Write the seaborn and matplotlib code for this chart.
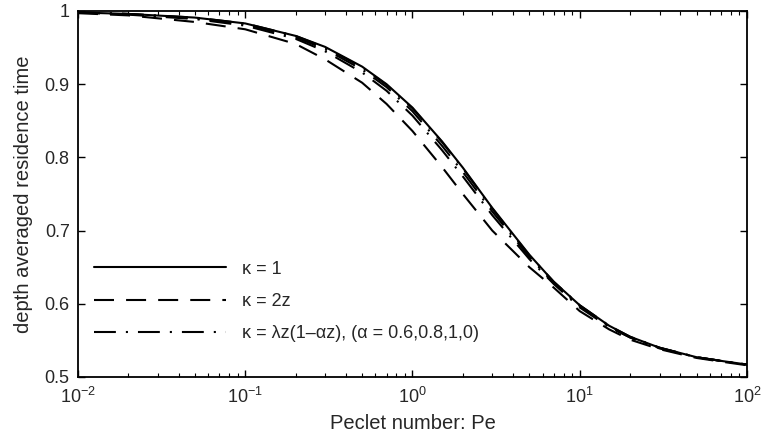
import numpy as np
import pandas as pd
import matplotlib
matplotlib.use("Agg")
import matplotlib.pyplot as plt
import seaborn as sns

pe = [0.01, 0.02, 0.05, 0.1, 0.2, 0.3, 0.5, 0.7, 1, 1.5, 2, 3, 5, 7, 10, 15, 20, 30, 50, 70, 100]
k_const = [.998, .996, .991, .983, .966, .951, .924, .900, .868, .822, .786, .731, .667, .630, .598, .570, .555, .540, .527, .522, .517]
k_2z = [.997, .994, .985, .975, .955, .934, .902, .873, .836, .787, .750, .700, .650, .622, .590, .565, .551, .538, .526, .521, .516]
k_a06 = [.998, .995, .989, .980, .962, .945, .916, .891, .857, .810, .774, .721, .661, .627, .595, .568, .554, .539, .527, .522, .517]
k_a08 = [.998, .996, .990, .982, .964, .948, .920, .896, .863, .816, .780, .726, .664, .628, .597, .569, .554, .540, .527, .522, .517]
k_a10 = [.998, .996, .991, .983, .966, .950, .923, .899, .867, .821, .785, .730, .666, .630, .598, .570, .555, .540, .527, .522, .517]

sns.set_style("ticks")
plt.rcParams['font.family'] = ['Liberation Sans', 'DejaVu Sans']
plt.rcParams['mathtext.fontset'] = 'custom'
plt.rcParams['mathtext.rm'] = 'Liberation Sans'

fig = plt.figure(figsize=(7.64, 4.38), dpi=100)
ax = fig.add_axes([0.1021, 0.1393, 0.8756, 0.8356])

dashed = (0, (9.6, 5.8))
dashdot = (0, (10.5, 4.8, 1, 4.8))
lw = 1.5

sns.lineplot(x=pe, y=k_const, ax=ax, color='k', lw=lw, label='κ = 1')
sns.lineplot(x=pe, y=k_2z, ax=ax, color='k', lw=lw, linestyle=dashed, label='κ = 2z')
sns.lineplot(x=pe, y=k_a06, ax=ax, color='k', lw=lw, linestyle=dashdot,
             label='κ = λz(1–αz), (α = 0.6,0.8,1,0)')
sns.lineplot(x=pe, y=k_a08, ax=ax, color='k', lw=lw, linestyle=dashdot)
sns.lineplot(x=pe, y=k_a10, ax=ax, color='k', lw=lw, linestyle=dashdot)

ax.set_xscale('log')
ax.set_xlim(0.01, 100)
ax.set_ylim(0.5, 1.0)
ax.set_yticks([0.5, 0.6, 0.7, 0.8, 0.9, 1.0])
ax.set_yticklabels(['0.5', '0.6', '0.7', '0.8', '0.9', '1'])
ax.set_xlabel('Peclet number: Pe', fontsize=14.5, labelpad=5)
ax.set_ylabel('depth averaged residence time', fontsize=14.5, labelpad=8)
ax.tick_params(which='both', direction='in', top=True, right=True, labelsize=13, color='k')
ax.tick_params(which='major', length=5, width=1)
ax.tick_params(which='minor', length=3, width=0.8)
ax.tick_params(axis='x', which='major', pad=7)
ax.tick_params(axis='y', which='major', pad=6)
for s in ax.spines.values():
    s.set_visible(True)
    s.set_linewidth(1.3)
    s.set_color('k')

ax.legend(loc='lower left', bbox_to_anchor=(0.0, 0.05), frameon=False, fontsize=13,
          handlelength=7.3, labelspacing=0.85, handletextpad=0.9)

fig.savefig('out.png', dpi=100)
